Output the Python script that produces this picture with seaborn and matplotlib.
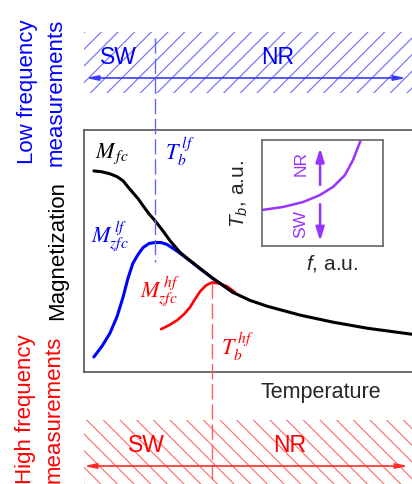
import numpy as np
import pandas as pd
import matplotlib
matplotlib.use("Agg")
import matplotlib.pyplot as plt
from matplotlib.patches import Rectangle
import seaborn as sns

sns.set_style("white")
plt.rcParams['font.family'] = ['Liberation Sans', 'DejaVu Sans']
plt.rcParams['mathtext.fontset'] = 'custom'
plt.rcParams['mathtext.rm'] = 'Liberation Sans'
plt.rcParams['mathtext.it'] = 'Liberation Sans:italic'
plt.rcParams['hatch.linewidth'] = 0.8

# curves (arbitrary units, 0..10 on both axes)
fc_T = [0.30, 0.55, 0.79, 1.01, 1.19, 1.34, 1.49, 1.65, 1.80, 1.98, 2.16, 2.38,
        2.62, 2.93, 3.23, 3.54, 3.93, 4.54, 5.06, 5.58, 6.59, 7.59, 8.63, 10.0]
fc_M = [8.31, 8.27, 8.19, 8.07, 7.90, 7.65, 7.41, 7.16, 6.87, 6.54, 6.26, 5.88,
        5.43, 4.94, 4.61, 4.28, 3.87, 3.29, 2.96, 2.72, 2.35, 2.06, 1.81, 1.56]

zfc_lf_T = [0.30, 0.55, 0.79, 1.01, 1.19, 1.34, 1.49, 1.65, 1.80, 1.98, 2.16,
            2.35, 2.53, 2.77, 3.02, 3.29, 3.54, 3.75, 3.93, 4.24, 4.54]
zfc_lf_M = [0.62, 1.07, 1.60, 2.30, 3.09, 3.87, 4.49, 4.86, 5.14, 5.31, 5.35,
            5.35, 5.27, 5.06, 4.81, 4.53, 4.26, 4.05, 3.86, 3.58, 3.29]

zfc_hf_T = [2.35, 2.59, 2.84, 3.05, 3.23, 3.38, 3.54, 3.72, 3.90, 4.12, 4.36, 4.60]
zfc_hf_M = [1.77, 1.93, 2.14, 2.39, 2.67, 3.00, 3.33, 3.58, 3.70, 3.66, 3.54, 3.30]

# inset: blocking temperature vs frequency
inset_f = [0.0, 1.74, 3.40, 4.79, 5.87, 6.86, 7.52, 8.10, 8.25]
inset_Tb = [3.40, 3.68, 4.15, 4.81, 5.57, 6.70, 8.11, 9.81, 10.3]

BLUE = '#0000ff'
RED = '#ff0000'
PURPLE = '#9933ff'

fig = plt.figure(figsize=(4.12, 4.84), dpi=100)

# main panel
ax = fig.add_axes([84/412, 112/484, 328/412, 242/484])
sns.lineplot(x=zfc_lf_T, y=zfc_lf_M, sort=False, ax=ax, color=BLUE, lw=2.2)
sns.lineplot(x=zfc_hf_T, y=zfc_hf_M, sort=False, ax=ax, color=RED, lw=1.9)
sns.lineplot(x=fc_T, y=fc_M, sort=False, ax=ax, color='black', lw=2.2)
ax.set_xlim(0, 10)
ax.set_ylim(0, 10)
ax.set_xticks([])
ax.set_yticks([])
ax.spines['right'].set_visible(False)
for s in ['left', 'top', 'bottom']:
    ax.spines[s].set_color('#555555')
    ax.spines[s].set_linewidth(1.2)
ax.set_xlabel('Temperature', fontsize=15.5)
ax.xaxis.set_label_coords(0.7226, -0.04)

# inset
axi = fig.add_axes([262/412, 238/484, 121/412, 106/484])
sns.lineplot(x=inset_f, y=inset_Tb, sort=False, ax=axi, color=PURPLE, lw=1.8)
axi.set_xlim(0, 10)
axi.set_ylim(0, 10)
axi.set_xticks([])
axi.set_yticks([])
for s in axi.spines.values():
    s.set_color('#666666')
    s.set_linewidth(1.2)
axi.annotate('', xy=(4.8, 9.5), xytext=(4.8, 5.5),
             arrowprops=dict(arrowstyle='-|>,head_length=0.8,head_width=0.25', color=PURPLE, lw=1.8))
axi.annotate('', xy=(4.8, 0.2), xytext=(4.8, 4.2),
             arrowprops=dict(arrowstyle='-|>,head_length=0.8,head_width=0.25', color=PURPLE, lw=1.8))
axi.text(3.2, 7.8, 'NR', rotation=90, color=PURPLE, fontsize=12.5, ha='center', va='center')
axi.text(3.2, 2.1, 'SW', rotation=90, color=PURPLE, fontsize=12.5, ha='center', va='center')
axi.set_ylabel(r'$T_b$, a.u.', fontsize=15)
axi.yaxis.set_label_coords(-0.10, 0.49)
axi.set_xlabel(r'$f$, a.u.', fontsize=15)
axi.xaxis.set_label_coords(0.58, -0.07)

# overlay in pixel coordinates for bands, dashed lines and labels
ov = fig.add_axes([0, 0, 1, 1], zorder=5)
ov.set_xlim(0, 412)
ov.set_ylim(484, 0)
ov.axis('off')
ov.patch.set_alpha(0)

ov.add_patch(Rectangle((84, 32), 330, 61, fill=False, hatch='//',
                       edgecolor='#6a6aff', linewidth=0))
ov.add_patch(Rectangle((84, 420), 330, 66, fill=False, hatch='\\\\',
                       edgecolor='#ff6a6a', linewidth=0))

ov.annotate('', xy=(86, 78), xytext=(406, 78),
            arrowprops=dict(arrowstyle='<|-|>,head_length=0.7,head_width=0.15',
                            color='#3a3aff', lw=1.2, shrinkA=0, shrinkB=0))
ov.annotate('', xy=(84, 466), xytext=(408, 466),
            arrowprops=dict(arrowstyle='<|-|>,head_length=0.7,head_width=0.15',
                            color='#ff2a2a', lw=1.2, shrinkA=0, shrinkB=0))

ov.plot([155, 155], [38, 262], color='#6464ff', lw=1.0, ls=(0, (11, 3.5)))
ov.plot([212, 212], [283, 484], color='#ff5c5c', lw=1.0, ls=(0, (11, 3.5)))

ov.text(118, 58, 'SW', color=BLUE, fontsize=16.5, ha='center', va='center')
ov.text(278, 58, 'NR', color=BLUE, fontsize=16.5, ha='center', va='center')
ov.text(146, 445, 'SW', color=RED, fontsize=16.5, ha='center', va='center')
ov.text(290, 445, 'NR', color=RED, fontsize=16.5, ha='center', va='center')

ov.text(42, 92, 'Low frequency\nmeasurements', rotation=90, color=BLUE,
        fontsize=16, ha='center', va='center', multialignment='center', linespacing=1.45)
ov.text(58, 251, 'Magnetization', rotation=90, color='black',
        fontsize=16, ha='center', va='center')
ov.text(40, 409, 'High frequency\nmeasurements', rotation=90, color=RED,
        fontsize=16, ha='center', va='center', multialignment='center', linespacing=1.45)

mkw = dict(fontsize=16, ha='left', va='baseline', math_fontfamily='stix')
ov.text(95, 158, r'$M_{\,fc}$', color='black', **mkw)
ov.text(165, 160, r'$T_b^{\,lf}$', color=BLUE, **mkw)
ov.text(91, 243, r'$M_{zfc}^{\,lf}$', color=BLUE, **mkw)
ov.text(140, 298, r'$M_{zfc}^{\,hf}$', color=RED, **mkw)
ov.text(221, 355, r'$T_b^{\,hf}$', color=RED, **mkw)

fig.savefig('out.png', dpi=100)
